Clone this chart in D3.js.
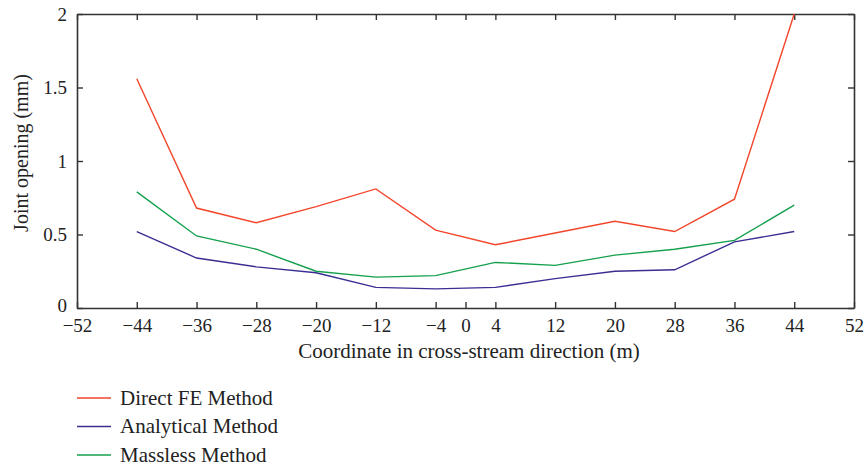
<!DOCTYPE html>
<html>
<head>
<meta charset="utf-8">
<script src="https://cdn.jsdelivr.net/npm/d3@7"></script>
<style>
  body { margin: 0; background: #fff; }
  text { font-family: "Liberation Serif", "DejaVu Serif", serif; fill: #222; }
</style>
</head>
<body>
<svg id="chart" width="864" height="466"></svg>
<script>
var xs = [-44, -36, -28, -20, -12, -4, 4, 12, 20, 28, 36, 44],
  directFE = [1.56, 0.68, 0.58, 0.69, 0.81, 0.53, 0.43, 0.51, 0.59, 0.52, 0.74, 2.0],
  analytical = [0.52, 0.34, 0.28, 0.24, 0.14, 0.13, 0.14, 0.20, 0.25, 0.26, 0.45, 0.52],
  massless = [0.79, 0.49, 0.40, 0.25, 0.21, 0.22, 0.31, 0.29, 0.36, 0.40, 0.46, 0.70],
  xTicks = [-52, -44, -36, -28, -20, -12, -4, 0, 4, 12, 20, 28, 36, 44, 52],
  yTicks = [0, 0.5, 1, 1.5, 2];

var series = [
  { name: "Direct FE Method", values: directFE, color: "#f2462b" },
  { name: "Analytical Method", values: analytical, color: "#3b2e92" },
  { name: "Massless Method", values: massless, color: "#14a04c" }
];

var svg = d3.select("#chart"),
  margin = { top: 14, right: 10, bottom: 158, left: 77 },
  width = 854 - margin.left,
  height = 308 - margin.top,
  g = svg.append("g").attr("transform", "translate(" + margin.left + "," + margin.top + ")");

var x = d3.scaleLinear().domain([-52, 52]).range([0, width]);
var y = d3.scaleLinear().domain([0, 2]).range([height, 0]);

var fmt = function (d) { return d < 0 ? "\u2212" + Math.abs(d) : String(d); };

g.append("defs").append("clipPath")
  .attr("id", "clip")
  .append("rect")
  .attr("width", width)
  .attr("height", height);

// inward ticks on all four sides
var axB = g.append("g").attr("transform", "translate(0," + height + ")")
  .call(d3.axisBottom(x).tickValues(xTicks).tickSizeInner(-6).tickSizeOuter(0).tickPadding(11).tickFormat(fmt));
var axT = g.append("g")
  .call(d3.axisTop(x).tickValues(xTicks).tickSizeInner(-6).tickSizeOuter(0).tickFormat(""));
var axL = g.append("g")
  .call(d3.axisLeft(y).tickValues(yTicks).tickSizeInner(-6).tickSizeOuter(0).tickPadding(10).tickFormat(d3.format("")));
var axR = g.append("g").attr("transform", "translate(" + width + ",0)")
  .call(d3.axisRight(y).tickValues(yTicks).tickSizeInner(-6).tickSizeOuter(0).tickFormat(""));

[axB, axT, axL, axR].forEach(function (a) {
  a.selectAll(".domain").attr("stroke", "#333").attr("stroke-width", 1.6);
  a.selectAll(".tick line").attr("stroke", "#333").attr("stroke-width", 1.4);
  a.selectAll(".tick text").style("font-family", "Liberation Serif, serif").style("font-size", "19px").attr("fill", "#222");
});
// keep the corner "0" clear of the "−52" below it
axL.selectAll(".tick text").filter(function (d) { return d === 0; }).attr("dy", "0.2em");

var line = d3.line()
  .x(function (d, i) { return x(xs[i]); })
  .y(function (d) { return y(d); });

g.append("g")
  .attr("clip-path", "url(#clip)")
  .selectAll("path")
  .data(series)
  .join("path")
  .attr("d", function (s) { return line(s.values); })
  .attr("fill", "none")
  .attr("stroke", function (s) { return s.color; })
  .attr("stroke-width", 1.4);

svg.append("text")
  .attr("x", 469)
  .attr("y", 358)
  .attr("text-anchor", "middle")
  .style("font-size", "21px")
  .text("Coordinate in cross-stream direction (m)");

svg.append("text")
  .attr("transform", "translate(28,153) rotate(-90)")
  .attr("text-anchor", "middle")
  .style("font-size", "20px")
  .text("Joint opening (mm)");

// legend
var leg = svg.append("g").selectAll("g")
  .data(series)
  .join("g")
  .attr("transform", function (s, i) { return "translate(77," + (398 + i * 28.5) + ")"; });

leg.append("line")
  .attr("x1", 0).attr("x2", 34)
  .attr("stroke", function (s) { return s.color; })
  .attr("stroke-width", 1.4);

leg.append("text")
  .attr("x", 43)
  .attr("dy", "0.33em")
  .style("font-size", "21px")
  .text(function (s) { return s.name; });
</script>
</body>
</html>
